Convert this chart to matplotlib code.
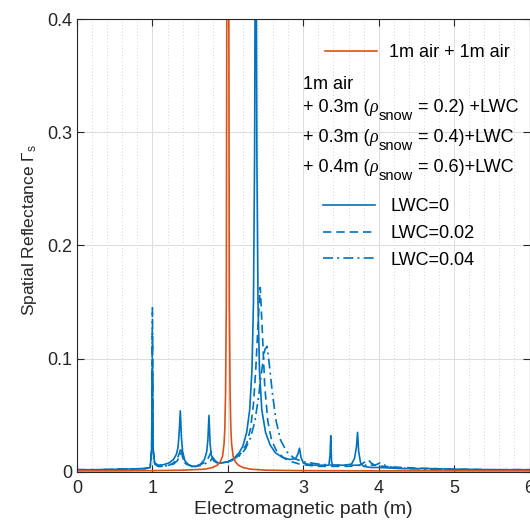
import matplotlib
matplotlib.use("Agg")
import matplotlib.pyplot as plt
from matplotlib.lines import Line2D
from matplotlib.ticker import MultipleLocator, FormatStrFormatter

plt.rcParams['font.family'] = ['Liberation Sans', 'DejaVu Sans']
plt.rcParams['mathtext.fontset'] = 'custom'
plt.rcParams['mathtext.rm'] = 'Liberation Sans'
plt.rcParams['mathtext.it'] = 'Liberation Sans:italic'

# 1m air + 1m air (orange)
x_air = [0, 0.5, 1.0, 1.4, 1.7, 1.8, 1.86, 1.9, 1.93, 1.95,
         1.96, 1.97, 1.98, 1.99, 2.0, 2.01, 2.02, 2.03, 2.04, 2.05,
         2.07, 2.1, 2.14, 2.2, 2.3, 2.5, 3.0, 4.0, 5.0, 6.0]
y_air = [0.001, 0.001, 0.0012, 0.0016, 0.0025, 0.004, 0.006, 0.009, 0.014, 0.025,
         0.038, 0.07, 0.15, 0.55, 1.5, 0.55, 0.15, 0.07, 0.038, 0.025,
         0.014, 0.009, 0.006, 0.004, 0.0025, 0.0016, 0.0012, 0.001, 0.001, 0.001]

# snow layers, LWC = 0
x_lwc0 = [0, 0.3, 0.6, 0.9, 0.97, 0.99, 1.0, 1.01, 1.03, 1.08,
          1.15, 1.22, 1.28, 1.32, 1.34, 1.355, 1.37, 1.385, 1.40, 1.43,
          1.47, 1.52, 1.58, 1.64, 1.69, 1.72, 1.735, 1.75, 1.765, 1.78,
          1.81, 1.86, 1.92, 2.0, 2.08, 2.15, 2.2, 2.25, 2.29, 2.32,
          2.34, 2.355, 2.37, 2.385, 2.40, 2.42, 2.45, 2.5, 2.56, 2.63,
          2.72, 2.82, 2.9, 2.93, 2.95, 2.97, 3.0, 3.05, 3.15, 3.25,
          3.34, 3.355, 3.365, 3.375, 3.39, 3.45, 3.55, 3.64, 3.68, 3.705,
          3.72, 3.735, 3.76, 3.8, 3.9, 4.0, 4.3, 4.7, 5.0, 5.5, 6.0]
y_lwc0 = [0.002, 0.002, 0.0025, 0.003, 0.004, 0.02, 0.09, 0.02, 0.008, 0.006,
          0.0065, 0.008, 0.011, 0.016, 0.022, 0.035, 0.054, 0.03, 0.018, 0.01,
          0.007, 0.005, 0.005, 0.007, 0.011, 0.018, 0.028, 0.050, 0.025, 0.015,
          0.01, 0.008, 0.008, 0.009, 0.012, 0.017, 0.023, 0.035, 0.055, 0.09,
          0.15, 0.28, 0.6, 0.28, 0.15, 0.09, 0.055, 0.035, 0.024, 0.017,
          0.013, 0.011, 0.012, 0.016, 0.021, 0.013, 0.008, 0.007, 0.006, 0.006,
          0.006, 0.015, 0.032, 0.009, 0.006, 0.006, 0.006, 0.007, 0.012, 0.022,
          0.035, 0.018, 0.008, 0.005, 0.004, 0.004, 0.003, 0.003, 0.0025, 0.002, 0.002]

# LWC = 0.02
x_lwc2 = [0, 0.3, 0.6, 0.9, 0.97, 0.99, 1.0, 1.01, 1.03, 1.08,
          1.15, 1.22, 1.28, 1.33, 1.36, 1.38, 1.40, 1.43, 1.48, 1.55,
          1.62, 1.68, 1.73, 1.76, 1.78, 1.80, 1.84, 1.9, 2.0, 2.1,
          2.18, 2.25, 2.3, 2.34, 2.37, 2.40, 2.43, 2.46, 2.49, 2.53,
          2.58, 2.65, 2.75, 2.85, 2.95, 3.05, 3.2, 3.4, 3.6, 3.75,
          3.82, 3.86, 3.9, 3.95, 4.05, 4.3, 4.7, 5.0, 5.5, 6.0]
y_lwc2 = [0.002, 0.002, 0.0025, 0.003, 0.004, 0.02, 0.12, 0.02, 0.007, 0.005,
          0.005, 0.006, 0.008, 0.012, 0.017, 0.022, 0.013, 0.008, 0.006, 0.005,
          0.006, 0.008, 0.011, 0.015, 0.018, 0.012, 0.009, 0.008, 0.009, 0.012,
          0.017, 0.025, 0.038, 0.06, 0.09, 0.13, 0.163, 0.12, 0.075, 0.045,
          0.028, 0.018, 0.012, 0.009, 0.007, 0.006, 0.005, 0.005, 0.005, 0.006,
          0.009, 0.011, 0.008, 0.006, 0.005, 0.004, 0.003, 0.0025, 0.002, 0.002]

# LWC = 0.04
x_lwc4 = [0, 0.3, 0.6, 0.9, 0.97, 0.99, 1.0, 1.01, 1.03, 1.08,
          1.15, 1.22, 1.28, 1.33, 1.36, 1.385, 1.41, 1.45, 1.5, 1.58,
          1.66, 1.72, 1.77, 1.80, 1.83, 1.88, 1.95, 2.05, 2.15, 2.23,
          2.3, 2.36, 2.41, 2.45, 2.49, 2.52, 2.55, 2.59, 2.64, 2.7,
          2.78, 2.88, 3.0, 3.2, 3.4, 3.6, 3.8, 3.95, 4.02, 4.06,
          4.1, 4.2, 4.4, 4.7, 5.0, 5.5, 6.0]
y_lwc4 = [0.002, 0.002, 0.0025, 0.003, 0.004, 0.02, 0.145, 0.02, 0.007, 0.005,
          0.005, 0.006, 0.007, 0.01, 0.014, 0.02, 0.011, 0.007, 0.005, 0.005,
          0.006, 0.008, 0.01, 0.013, 0.01, 0.008, 0.008, 0.01, 0.014, 0.02,
          0.03, 0.045, 0.068, 0.09, 0.108, 0.111, 0.095, 0.07, 0.045, 0.028,
          0.018, 0.012, 0.009, 0.007, 0.006, 0.006, 0.006, 0.006, 0.008, 0.007,
          0.005, 0.004, 0.003, 0.0025, 0.002, 0.002, 0.002]

# legend text rows: (thickness, density)
rows = [('0.3m', '0.2', ' +LWC'), ('0.3m', '0.4', '+LWC'), ('0.4m', '0.6', '+LWC')]
lwc_labels = ['LWC=0', 'LWC=0.02', 'LWC=0.04']

blue = '#0072BD'
orange = '#D95319'
txt = '#262626'
dash = (0, (5, 3))
dashdot = (0, (6, 2.5, 1.2, 2.5))

fig = plt.figure(figsize=(5.30, 5.22), dpi=100)
ax = fig.add_axes([77 / 530, 50 / 522, 452.5 / 530, 453 / 522])

ax.plot(x_lwc0, y_lwc0, color=blue, lw=1.2, ls='-')
ax.plot(x_lwc2, y_lwc2, color=blue, lw=1.2, ls=dash)
ax.plot(x_lwc4, y_lwc4, color=blue, lw=1.2, ls=dashdot)
ax.plot(x_air, y_air, color=orange, lw=1.2)

ax.set_xlim(0, 6)
ax.set_ylim(0, 0.4)
ax.xaxis.set_major_locator(MultipleLocator(1))
ax.xaxis.set_minor_locator(MultipleLocator(0.2))
ax.yaxis.set_major_locator(MultipleLocator(0.1))
ax.yaxis.set_major_formatter(FormatStrFormatter('%g'))
ax.grid(True, which='major', color='#dedede', lw=0.8)
ax.grid(True, which='minor', axis='x', color='#c8c8c8', lw=0.6, ls=(0, (1, 3)))
ax.set_axisbelow(True)
ax.tick_params(which='both', direction='in', top=True, right=True,
               labelsize=13, colors=txt, length=5, width=0.8)
ax.tick_params(axis='x', pad=6)
ax.tick_params(which='minor', length=0)
for s in ax.spines.values():
    s.set_color(txt)
    s.set_linewidth(0.8)

ax.set_xlabel('Electromagnetic path (m)', fontsize=14, color=txt, labelpad=2.5)
ax.set_ylabel(r'Spatial Reflectance $\Gamma_{\rm s}$', fontsize=12.5, color=txt)
ax.yaxis.set_label_coords(-0.083, 0.535)

leg1 = ax.legend([Line2D([], [], color=orange, lw=1.2)], ['1m air + 1m air'],
                 loc='upper left', bbox_to_anchor=(0.548, 0.9448), frameon=False,
                 fontsize=13, handlelength=2.88, handletextpad=0.66,
                 borderpad=0, borderaxespad=0)
ax.add_artist(leg1)

x0 = (303 - 77) / 452.5
ax.text(x0, 0.8455, '1m air', transform=ax.transAxes, fontsize=13, va='baseline')
for (thick, rho, tail), yb in zip(rows, [0.7947, 0.7285, 0.6623]):
    t1 = ax.text(x0, yb, '+ ' + thick + ' (', transform=ax.transAxes, fontsize=13, va='baseline')
    t2 = ax.annotate('ρ', xy=(1, yb), xycoords=(t1, 'axes fraction'), fontsize=13,
                     family='Liberation Serif', style='italic', va='baseline')
    t3 = ax.annotate('snow', xy=(1, yb), xycoords=(t2, 'axes fraction'),
                     xytext=(0.5, -5.5), textcoords='offset points', fontsize=10.5, va='baseline')
    ax.annotate(' = ' + rho + ')' + tail, xy=(1, yb), xycoords=(t3, 'axes fraction'),
                fontsize=13, va='baseline')

handles = [Line2D([], [], color=blue, lw=1.2, ls='-'),
           Line2D([], [], color=blue, lw=1.2, ls=dash),
           Line2D([], [], color=blue, lw=1.2, ls=dashdot)]
ax.legend(handles, lwc_labels,
          loc='upper left', bbox_to_anchor=(0.544, 0.605), frameon=False,
          fontsize=13, handlelength=2.88, handletextpad=0.83, labelspacing=0.55,
          borderpad=0, borderaxespad=0)

fig.savefig('out.png', dpi=100)
